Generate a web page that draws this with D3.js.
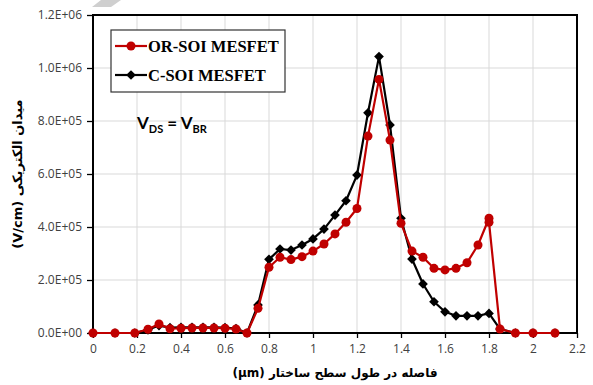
<!DOCTYPE html>
<html>
<head>
<meta charset="utf-8">
<script src="https://cdn.jsdelivr.net/npm/d3@7"></script>
<style>
  html, body { margin: 0; padding: 0; background: #fff; }
  svg { display: block; }
</style>
</head>
<body>
<svg id="chart" width="593" height="385"></svg>
<script>
// Position along the structure surface (µm)
const orX = [0, 0.1, 0.19, 0.25, 0.3, 0.35, 0.4, 0.45, 0.5, 0.55, 0.6, 0.65, 0.7, 0.75, 0.8, 0.85, 0.9, 0.95, 1.0, 1.05, 1.1, 1.15, 1.2, 1.25, 1.3, 1.35, 1.4, 1.45, 1.5, 1.55, 1.6, 1.65, 1.7, 1.75, 1.8, 1.8, 1.85, 1.92, 2.0, 2.1];
// OR-SOI MESFET electric field (V/cm)
const orE = [0, 0, 0, 14000, 34000, 16000, 18000, 19000, 19000, 19000, 18000, 15000, 0, 93000, 248000, 286000, 277000, 288000, 309000, 336000, 374000, 418000, 470000, 743000, 957000, 728000, 414000, 309000, 286000, 244000, 238000, 244000, 265000, 332000, 433000, 418000, 15000, 0, 0, 0];

const cX = [0, 0.1, 0.19, 0.25, 0.3, 0.35, 0.4, 0.45, 0.5, 0.55, 0.6, 0.65, 0.7, 0.75, 0.8, 0.85, 0.9, 0.95, 1.0, 1.05, 1.1, 1.15, 1.2, 1.25, 1.3, 1.35, 1.4, 1.45, 1.5, 1.55, 1.6, 1.65, 1.7, 1.75, 1.8, 1.85, 1.92, 2.0, 2.1];
// C-SOI MESFET electric field (V/cm)
const cE = [0, 0, 0, 12000, 28000, 20000, 21000, 21000, 21000, 21000, 20000, 17000, 0, 106000, 278000, 317000, 313000, 332000, 355000, 392000, 445000, 499000, 596000, 831000, 1043000, 785000, 433000, 279000, 185000, 118000, 80000, 65000, 65000, 65000, 74000, 15000, 0, 0, 0];

const xTicks = [0, 0.2, 0.4, 0.6, 0.8, 1, 1.2, 1.4, 1.6, 1.8, 2, 2.2];
const yTicks = [0, 200000, 400000, 600000, 800000, 1000000, 1200000];
const seriesNames = ["OR-SOI MESFET", "C-SOI MESFET"];

const svg = d3.select("#chart");
const m = { left: 93, right: 577, top: 15, bottom: 333 };

const x = d3.scaleLinear().domain([0, 2.2]).range([m.left, m.right]);
const y = d3.scaleLinear().domain([0, 1200000]).range([m.bottom, m.top]);

const RED = "#c00000";
const BLACK = "#000000";

// faint stroke near the top edge
svg.append("polygon")
  .attr("points", "101,0 121,0 111,7 92,7")
  .attr("fill", "#cfcfcf");

// gridlines
const grid = svg.append("g");
grid.selectAll("line.v").data(xTicks.slice(1, -1)).join("line")
  .attr("x1", d => x(d)).attr("x2", d => x(d))
  .attr("y1", m.top).attr("y2", m.bottom)
  .attr("stroke", "#d9d9d9").attr("stroke-width", 1);
grid.selectAll("line.h").data(yTicks.slice(1, -1)).join("line")
  .attr("x1", m.left).attr("x2", m.right)
  .attr("y1", d => y(d)).attr("y2", d => y(d))
  .attr("stroke", "#d9d9d9").attr("stroke-width", 1);

// axes
const fmtY = d => {
  const s = d3.format(".1e")(d); // e.g. 1.2e+6
  const [mant, ex] = s.split("e");
  const sign = ex[0];
  const n = ex.slice(1).padStart(2, "0");
  return mant + "E" + sign + n;
};

const xAxis = svg.append("g")
  .attr("transform", `translate(0,${m.bottom})`)
  .call(d3.axisBottom(x).tickValues(xTicks).tickFormat(d3.format("")).tickSizeOuter(0).tickSize(5).tickPadding(6));
const yAxis = svg.append("g")
  .attr("transform", `translate(${m.left},0)`)
  .call(d3.axisLeft(y).tickValues(yTicks).tickFormat(fmtY).tickSizeOuter(0).tickSize(6).tickPadding(5));

[xAxis, yAxis].forEach(a => {
  a.select(".domain").remove();
  a.selectAll(".tick line").attr("stroke", "#000").attr("stroke-width", 1.3);
  a.selectAll(".tick text")
    .attr("font-family", "'Open Sans', sans-serif")
    .attr("font-size", 12)
    .attr("fill", "#404040");
});

// plot frame
svg.append("rect")
  .attr("x", m.left).attr("y", m.top)
  .attr("width", m.right - m.left).attr("height", m.bottom - m.top)
  .attr("fill", "none").attr("stroke", "#000").attr("stroke-width", 2);

// series
const line = d3.line().x(d => x(d[0])).y(d => y(d[1]));
const cData = cX.map((v, i) => [v, cE[i]]);
const orData = orX.map((v, i) => [v, orE[i]]);

const diamond = d3.symbol().type(d3.symbolDiamond2).size(60);

function drawBlack(g, data) {
  g.append("path").datum(data).attr("d", line)
    .attr("fill", "none").attr("stroke", BLACK).attr("stroke-width", 2.2)
    .attr("stroke-linejoin", "round");
  g.selectAll("path.pt").data(data).join("path").attr("class", "pt")
    .attr("d", diamond)
    .attr("transform", d => `translate(${x(d[0])},${y(d[1])})`)
    .attr("fill", BLACK);
}
function drawRed(g, data) {
  g.append("path").datum(data).attr("d", line)
    .attr("fill", "none").attr("stroke", RED).attr("stroke-width", 2.2)
    .attr("stroke-linejoin", "round");
  g.selectAll("circle").data(data).join("circle")
    .attr("cx", d => x(d[0])).attr("cy", d => y(d[1])).attr("r", 4.5)
    .attr("fill", RED);
}
drawBlack(svg.append("g"), cData);
drawRed(svg.append("g"), orData);

// legend
const lg = svg.append("g");
lg.append("rect").attr("x", 111).attr("y", 30).attr("width", 174).attr("height", 62)
  .attr("fill", "#fff").attr("stroke", "#333").attr("stroke-width", 1.2);
const legendRows = [
  { name: seriesNames[0], color: RED, sym: "circle", y: 46 },
  { name: seriesNames[1], color: BLACK, sym: "diamond", y: 75 }
];
legendRows.forEach(r => {
  lg.append("line").attr("x1", 115).attr("x2", 147).attr("y1", r.y).attr("y2", r.y)
    .attr("stroke", r.color).attr("stroke-width", 2.2);
  if (r.sym === "circle") {
    lg.append("circle").attr("cx", 131).attr("cy", r.y).attr("r", 4.5).attr("fill", r.color);
  } else {
    lg.append("path").attr("d", diamond).attr("transform", `translate(131,${r.y})`).attr("fill", r.color);
  }
  lg.append("text").attr("x", 148).attr("y", r.y + 5.5)
    .attr("font-family", "'Liberation Serif', 'Times New Roman', serif")
    .attr("font-weight", "bold").attr("font-size", 16.5).attr("fill", "#000")
    .text(r.name);
});

// V_DS = V_BR annotation
const ann = svg.append("text").attr("x", 137).attr("y", 129)
  .attr("font-family", "Lato, sans-serif").attr("font-weight", "bold")
  .attr("font-size", 17).attr("fill", "#000");
ann.append("tspan").text("V");
ann.append("tspan").attr("font-size", 11).attr("dy", 4).text("DS");
ann.append("tspan").attr("dy", -4).text(" = V");
ann.append("tspan").attr("font-size", 11).attr("dy", 4).text("BR");

// axis titles
svg.append("text")
  .attr("transform", `translate(22,${(m.top + m.bottom) / 2}) rotate(-90)`)
  .attr("text-anchor", "middle")
  .attr("font-family", "'DejaVu Sans', sans-serif")
  .attr("font-size", 13).attr("font-weight", "bold").attr("fill", "#000")
  .text("(V/cm) میدان الکتریکی");

svg.append("text")
  .attr("x", (m.left + m.right) / 2).attr("y", 377)
  .attr("text-anchor", "middle")
  .attr("font-family", "'DejaVu Sans', sans-serif")
  .attr("font-size", 12).attr("font-weight", "bold").attr("fill", "#000")
  .text("(µm) فاصله در طول سطح ساختار");
</script>
</body>
</html>
